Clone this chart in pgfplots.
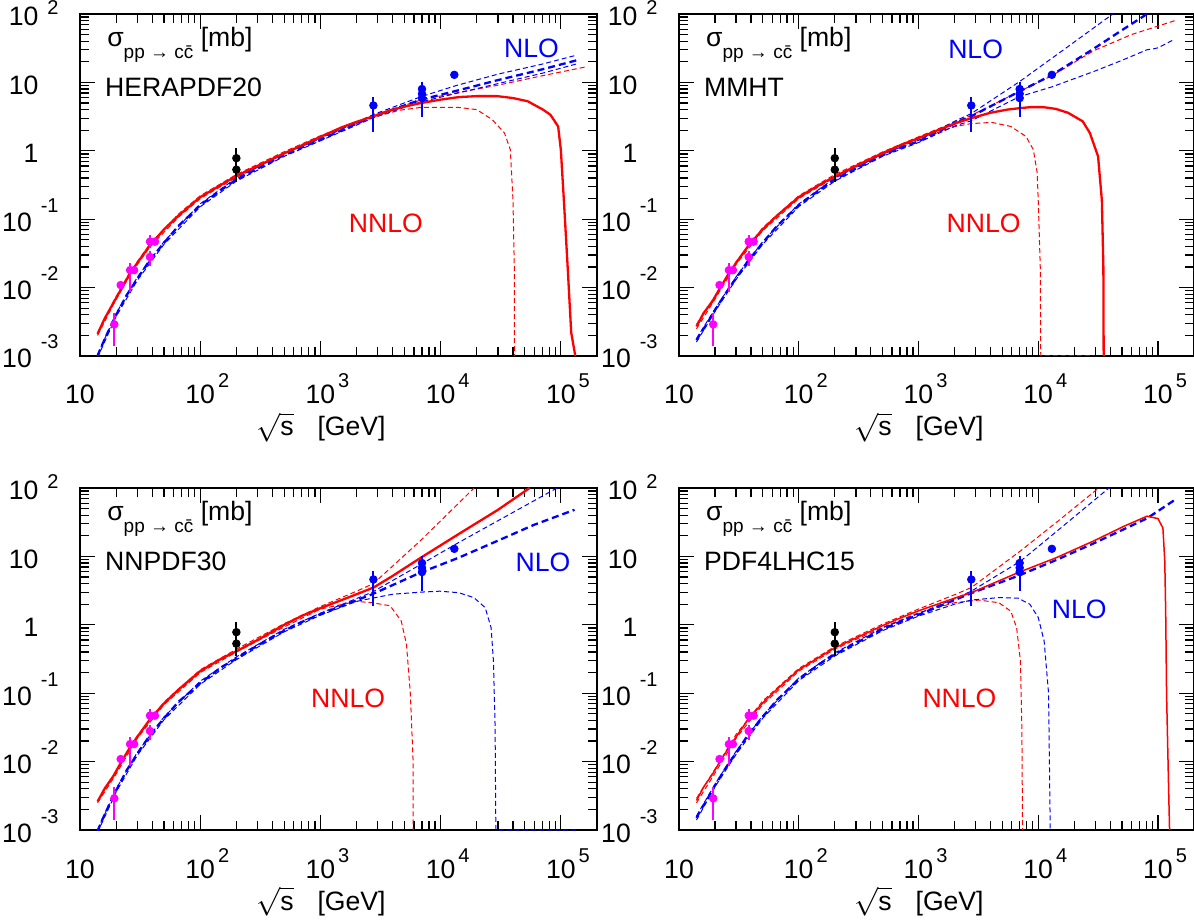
\documentclass[border=0pt]{standalone}
\usepackage{fontspec}
\setmainfont{Liberation Sans}
\usepackage{pgfplots}
\pgfplotsset{compat=1.18}

\definecolor{rred}{rgb}{1,0,0}
\definecolor{rblue}{rgb}{0,0,1}
\definecolor{rmag}{rgb}{1,0,1}

\newcommand{\ef}{\fontsize{10}{10}\selectfont}
\newcommand{\xl}[1]{10\rlap{\hspace{1.5pt}\raisebox{8pt}{\ef #1}}}
\newcommand{\yl}[1]{10\hspace{4.5pt}\raisebox{9.5pt}{\ef #1}}
\newcommand{\ylt}[1]{10\hspace{4.5pt}\raisebox{5.5pt}{\ef #1}}
\newcommand{\ylz}[1]{#1\hspace{4.5pt}\phantom{\ef 2}}
\newcommand{\lf}{\fontsize{13.3}{16}\selectfont}

\pgfplotsset{
  rootaxis/.style={
    scale only axis, width=258.5pt, height=171pt, anchor=south west,
    xmin=10, xmax=2e5, ymin=1e-3, ymax=100,
    xtick={10,100,1000,10000,100000},
    xticklabels={10,{\xl{2}},{\xl{3}},{\xl{4}},{\xl{5}}},
    minor xtick={20,30,40,50,60,70,80,90,200,300,400,500,600,700,800,900,2000,3000,4000,5000,6000,7000,8000,9000,20000,30000,40000,50000,60000,70000,80000,90000,200000},
    ytick={0.001,0.01,0.1,1,10,100},
    yticklabels={{\yl{-3}},{\yl{-2}},{\yl{-1}},{\ylz{1}},{\ylz{10}},{\ylt{2}}},
    minor ytick={0.002,0.003,0.004,0.005,0.006,0.007,0.008,0.009,0.02,0.03,0.04,0.05,0.06,0.07,0.08,0.09,0.2,0.3,0.4,0.5,0.6,0.7,0.8,0.9,2,3,4,5,6,7,8,9,20,30,40,50,60,70,80,90},
    tick align=inside,
    major tick length=7.5pt, minor tick length=4.5pt,
    tick style={black, line width=0.65pt},
    axis line style={line width=0.9pt},
    ticklabel style={font=\lf},
    xticklabel style={anchor=base, inner sep=0pt, yshift=-24pt},
    yticklabel style={anchor=base east, inner sep=0pt, xshift=-10.5pt, yshift=-6pt},
    xlabel={$\sqrt{\mbox{s}}$\hspace{0.9em}[GeV]},
    xlabel style={at={(axis description cs:0.466,0)}, anchor=base, inner sep=0pt, yshift=-40pt, font=\lf},
  },
  nnloc/.style={rred, line width=1.15pt, solid},
  nloc/.style={rblue, line width=1.15pt, dash pattern=on 3.5pt off 2pt},
  nnlov/.style={rred, line width=0.5pt, dash pattern=on 2.5pt off 1.5pt},
  nlov/.style={rblue, line width=0.5pt, dash pattern=on 2.5pt off 1.5pt},
}

\newcommand{\datapoints}{%
  \addplot[only marks, mark=*, mark size=1.9pt, rmag, mark options={rmag, solid},
     error bars/.cd, y dir=both, y explicit, error mark=none, error bar style={line width=1pt, rmag, solid}] coordinates {
    (19.3,0.0029) += (0,0.0014) -= (0,0.0015)
    (21.8,0.0109) += (0,0.0008) -= (0,0.0008)
    (26.1,0.018) += (0,0.005) -= (0,0.0095)
    (28.2,0.018) += (0,0.001) -= (0,0.001)
    (38.2,0.047) += (0,0.012) -= (0,0.009)
    (42.0,0.047) += (0,0.003) -= (0,0.003)
    (38.2,0.028) += (0,0.006) -= (0,0.007)
  };
  \addplot[only marks, mark=*, mark size=1.9pt, black, mark options={black, solid},
     error bars/.cd, y dir=both, y explicit, error mark=none, error bar style={line width=1pt, black, solid}] coordinates {
    (200,0.78) += (0,0.32) -= (0,0.43)
    (200,0.53) += (0,0) -= (0,0)
  };
  \addplot[only marks, mark=*, mark size=1.9pt, rblue, mark options={rblue, solid},
     error bars/.cd, y dir=both, y explicit, error mark=none, error bar style={line width=1pt, rblue, solid}] coordinates {
    (2760,4.6) += (0,1.5) -= (0,2.72)
    (7000,8.0) += (0,2.3) -= (0,4.9)
    (7000,6.8) += (0,0) -= (0,0)
    (7000,5.9) += (0,0) -= (0,0)
    (13000,12.9) += (0,0) -= (0,0)
  };
}
\newcommand{\sigmalabel}[1]{%
  \node[anchor=base west, inner sep=0pt, font=\lf] at (axis description cs:0.052,0.906)
    {σ\raisebox{-6pt}{\fontsize{9.5}{10}\selectfont pp → c\=c} [mb]};
  \node[anchor=base west, inner sep=0pt, font=\lf] at (axis description cs:0.048,0.76) {#1};
}

\begin{document}
\begin{tikzpicture}
\useasboundingbox (0,0) rectangle (597pt,460.5pt);

% ---------------- HERAPDF20 ----------------
\begin{axis}[xmode=log, ymode=log, rootaxis, at={(40pt,282.5pt)}]
\addplot[nnlov] coordinates {(14,0.0022) (19,0.0063) (26,0.0168) (38,0.043) (66,0.119) (100,0.22) (200,0.45) (500,0.97) (1000,1.66) (2770,3.3) (7000,5.6) (14000,7.1) (30000,9.1) (70000,12.5) (160000,16.8)};
\addplot[nnlov] coordinates {(14,0.0020) (19,0.0057) (26,0.0152) (38,0.039) (66,0.107) (100,0.20) (200,0.41) (500,0.90) (1000,1.55) (2000,2.5) (2770,3.1) (4500,3.9) (6800,4.3) (14200,4.3) (20000,4.0) (27000,2.84) (34000,1.82) (38000,1.04) (40000,0.19) (41000,0.02) (41200,0.001)};
\addplot[nlov] coordinates {(14,0.00105) (20,0.0042) (30,0.0142) (50,0.047) (100,0.168) (200,0.40) (500,0.91) (1000,1.5) (2770,3.4) (6900,6.2) (13500,9.0) (30000,13.2) (70000,18.5) (135000,25)};
\addplot[nlov] coordinates {(14,0.00095) (20,0.0038) (30,0.0128) (50,0.043) (100,0.152) (200,0.36) (500,0.83) (1000,1.4) (2770,3.05) (6900,5.2) (13500,6.9) (30000,9.6) (70000,13.6) (135000,18.6)};
\addplot[nloc] coordinates {(14,0.0010) (15,0.00135) (17,0.0022) (20,0.0040) (24.5,0.0078) (30,0.0135) (38,0.025) (50,0.045) (66,0.080) (80,0.110) (100,0.16) (150,0.27) (200,0.38) (300,0.55) (500,0.87) (700,1.12) (1000,1.45) (2000,2.5) (2770,3.2) (6900,5.6) (13000,7.4) (30000,10.8) (70000,15.5) (135000,21)};
\addplot[nnloc] coordinates {(14,0.0021) (16,0.0035) (19,0.0060) (22,0.0095) (26,0.016) (30,0.023) (38,0.041) (50,0.071) (66,0.113) (100,0.21) (150,0.32) (200,0.43) (300,0.60) (500,0.92) (700,1.2) (1000,1.6) (1500,2.2) (2000,2.65) (2770,3.2) (4000,4.0) (5500,4.6) (6900,5.0) (10000,5.6) (14200,6.1) (20000,6.3) (29500,6.3) (40000,5.9) (53000,5.3) (71000,4.0) (82000,3.36) (95000,2.27) (100000,1.04) (106000,0.19) (114000,0.02) (122000,0.0022) (132000,0.001)};
\datapoints
\sigmalabel{HERAPDF20}
\node[rblue, font=\lf] at (axis cs:57000,32) {NLO};
\node[rred, font=\lf] at (axis cs:3500,0.087) {NNLO};
\end{axis}

% ---------------- MMHT ----------------
\begin{axis}[xmode=log, ymode=log, rootaxis, width=257.5pt, at={(339.5pt,282.5pt)}]
\addplot[nnlov] coordinates {(14,0.0029) (20,0.0075) (30,0.024) (50,0.075) (100,0.22) (200,0.45) (500,0.96) (1000,1.6) (2760,3.3) (7000,7.4) (13000,12.5) (29000,29) (60000,50) (145000,82)};
\addplot[nnlov] coordinates {(14,0.0025) (20,0.0068) (30,0.022) (50,0.068) (100,0.20) (200,0.41) (500,0.89) (1000,1.48) (2000,2.25) (2760,2.5) (4100,2.6) (5900,2.27) (7900,1.62) (9100,1.04) (9800,0.48) (10000,0.19) (10400,0.02) (10500,0.001) (29000,0.001)};
\addplot[nlov] coordinates {(14,0.0018) (20,0.0049) (30,0.0144) (50,0.047) (100,0.167) (200,0.40) (500,0.89) (1000,1.42) (2000,2.7) (2760,3.5) (7000,10.3) (15000,27) (42000,100)};
\addplot[nlov] coordinates {(14,0.0016) (20,0.0045) (30,0.0132) (50,0.043) (100,0.153) (200,0.36) (500,0.83) (1000,1.32) (2000,2.3) (2760,2.75) (7000,6.2) (13000,8.6) (29000,14.4) (50000,21) (81000,30) (92000,31) (100000,32) (135000,42)};
\addplot[nloc] coordinates {(14,0.0017) (15,0.0021) (17,0.0029) (20,0.0047) (24.5,0.0082) (30,0.0138) (38,0.025) (50,0.045) (66,0.080) (80,0.110) (100,0.16) (150,0.27) (200,0.38) (300,0.55) (500,0.86) (700,1.1) (1000,1.37) (2000,2.5) (2760,3.2) (7000,7.4) (13100,12.9) (29000,31) (50000,58) (81000,100)};
\addplot[nnloc] coordinates {(14,0.0027) (16,0.0042) (19,0.0063) (22,0.0098) (26,0.016) (30,0.023) (38,0.041) (50,0.071) (66,0.113) (100,0.21) (150,0.32) (200,0.42) (300,0.60) (500,0.92) (700,1.2) (1000,1.53) (1500,2.05) (2000,2.5) (2760,3.0) (4000,3.6) (5500,4.0) (7000,4.2) (8700,4.35) (11000,4.35) (14000,4.1) (17700,3.6) (23500,2.7) (27000,1.82) (31600,0.83) (34000,0.19) (35000,0.02) (35200,0.001)};
\datapoints
\sigmalabel{MMHT}
\node[rblue, font=\lf] at (axis cs:3000,30) {NLO};
\node[rred, font=\lf] at (axis cs:3500,0.087) {NNLO};
\end{axis}

% ---------------- NNPDF30 ----------------
\begin{axis}[xmode=log, ymode=log, rootaxis, at={(40pt,45.5pt)}]
\addplot[nnlov] coordinates {(14,0.0027) (20,0.0072) (30,0.024) (50,0.074) (100,0.22) (200,0.44) (500,1.04) (1000,1.85) (1500,2.5) (2000,3.1) (2760,4.0) (6800,17) (19000,100)};
\addplot[nnlov] coordinates {(14,0.0025) (20,0.0066) (30,0.022) (50,0.068) (100,0.20) (200,0.40) (500,0.93) (1000,1.7) (2000,2.2) (2700,2.1) (3800,1.9) (4700,1.14) (5200,0.52) (5600,0.098) (5900,0.0105) (5920,0.001)};
\addplot[nlov] coordinates {(14,0.001) (20,0.004) (30,0.0137) (50,0.045) (100,0.15) (200,0.34) (500,0.86) (1000,1.48) (2700,3.0) (6800,7.6) (14000,15.8) (40000,44) (93000,100)};
\addplot[nlov] coordinates {(14,0.00092) (20,0.0036) (30,0.0124) (50,0.041) (100,0.135) (200,0.31) (500,0.79) (1000,1.38) (2000,2.2) (2700,2.45) (4000,2.8) (6800,3.0) (9800,3.1) (14100,2.95) (18900,2.5) (23500,1.78) (26300,0.91) (27500,0.3) (28400,0.032) (28800,0.001) (140000,0.001)};
\addplot[nloc] coordinates {(14,0.00096) (15,0.0013) (17,0.0021) (20,0.0038) (24.5,0.0075) (30,0.013) (38,0.024) (50,0.043) (66,0.075) (80,0.100) (100,0.14) (150,0.24) (200,0.32) (300,0.50) (500,0.82) (700,1.1) (1000,1.43) (2700,2.8) (6800,5.8) (14000,9.5) (30000,17) (60000,29) (130000,48)};
\addplot[nnloc] coordinates {(14,0.0026) (16,0.0040) (19,0.0062) (22,0.0098) (26,0.016) (30,0.023) (38,0.041) (50,0.071) (66,0.113) (100,0.21) (150,0.32) (200,0.41) (300,0.60) (500,1.0) (700,1.35) (1000,1.75) (1500,2.3) (2000,2.8) (2760,3.5) (4000,5.2) (6800,9.5) (14000,21) (30000,48) (55000,100)};
\datapoints
\sigmalabel{NNPDF30}
\node[rblue, font=\lf] at (axis cs:71000,8.1) {NLO};
\node[rred, font=\lf] at (axis cs:1700,0.083) {NNLO};
\end{axis}

% ---------------- PDF4LHC15 ----------------
\begin{axis}[xmode=log, ymode=log, rootaxis, width=257.5pt, at={(339.5pt,45.5pt)}]
\addplot[nnlov] coordinates {(14,0.0029) (20,0.0078) (30,0.025) (50,0.077) (100,0.23) (200,0.48) (500,1.02) (1000,1.7) (2000,2.75) (2760,3.5) (7100,12) (15000,34) (32000,100)};
\addplot[nnlov] coordinates {(14,0.0025) (20,0.0068) (30,0.022) (50,0.068) (100,0.21) (200,0.44) (500,0.92) (1000,1.5) (2000,2.1) (2760,2.24) (3200,2.3) (4700,2.1) (5900,1.58) (6600,0.91) (7100,0.3) (7300,0.032) (7400,0.001)};
\addplot[nlov] coordinates {(14,0.0016) (20,0.0047) (30,0.0142) (50,0.047) (100,0.167) (200,0.39) (500,0.90) (1000,1.46) (2000,2.4) (2760,3.1) (7100,8.5) (15000,25) (39000,100)};
\addplot[nlov] coordinates {(14,0.0014) (20,0.0043) (30,0.0128) (50,0.043) (100,0.153) (200,0.35) (500,0.82) (1000,1.34) (2000,2.0) (2760,2.3) (4700,2.5) (6800,2.45) (8500,2.0) (10000,1.28) (11200,0.58) (12200,0.1) (12400,0.01) (12600,0.001)};
\addplot[nloc] coordinates {(14,0.0015) (15,0.0019) (17,0.0027) (20,0.0045) (24.5,0.0080) (30,0.0135) (38,0.025) (50,0.045) (66,0.080) (80,0.110) (100,0.16) (150,0.27) (200,0.37) (300,0.54) (500,0.86) (700,1.1) (1000,1.4) (2760,2.9) (6800,5.2) (14000,8.8) (29000,15.5) (81000,36) (140000,68)};
\addplot[rred, line width=0.75pt] coordinates {(14,0.0027) (16,0.0042) (19,0.0065) (22,0.0100) (26,0.016) (30,0.023) (38,0.042) (50,0.072) (66,0.115) (100,0.22) (150,0.34) (200,0.46) (300,0.64) (500,0.97) (700,1.25) (1000,1.6) (2000,2.45) (2760,2.95) (6800,5.8) (14000,9.5) (29000,16.8) (52000,27.6) (81000,38.7) (100000,35.7) (110000,26) (114000,8.5) (116000,1.58) (118000,0.098) (123000,0.0034) (125000,0.001)};
\datapoints
\sigmalabel{PDF4LHC15}
\node[rblue, font=\lf] at (axis cs:22000,1.7) {NLO};
\node[rred, font=\lf] at (axis cs:2200,0.083) {NNLO};
\end{axis}
\end{tikzpicture}
\end{document}
